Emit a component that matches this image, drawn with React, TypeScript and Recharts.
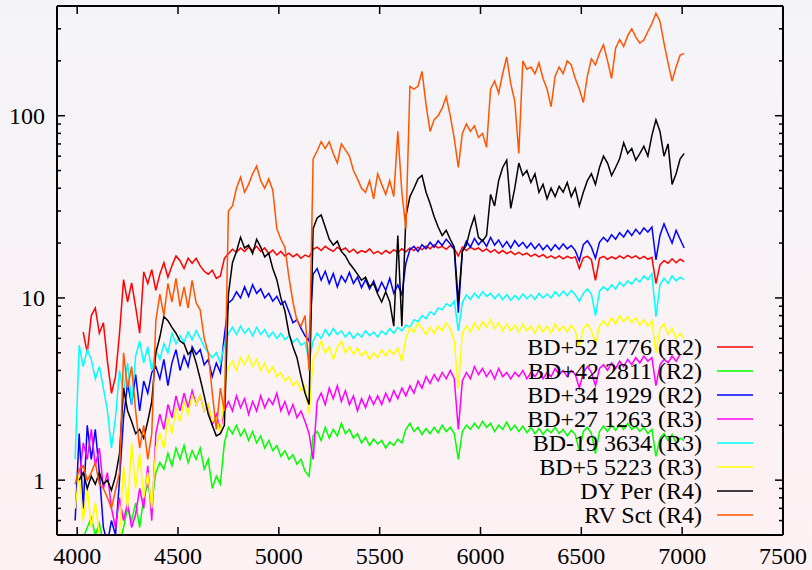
import { LineChart, Line, XAxis, YAxis } from 'recharts'

const WAVE_START = 3990
const WAVE_STEP = 20

const RED = [
  null, null, 6.5, 5.0, 8.0, 8.8, 6.4, 7.3, 4.5, 3.0,
  3.7, 6.4, 12.6, 9.5, 12.1, 8.9, 6.4, 13.9, 12.0, 14.3,
  11.0, 13.5, 15.6, 13.0, 15.0, 17.0, 16.0, 14.5, 16.5, 15.5,
  16.5, 15.0, 14.0, 13.5, 14.2, 12.8, 13.2, 16.5, 17.5, 18.5,
  17.8, 18.8, 18.0, 19.0, 18.2, 19.2, 18.0, 18.8, 17.5, 18.3,
  17.2, 18.0, 17.0, 17.6, 16.8, 17.4, 16.5, 17.2, 16.8, 18.5,
  19.0, 18.2, 19.2, 18.5, 18.0, 19.0, 18.3, 18.8, 17.8, 18.5,
  17.6, 18.2, 17.8, 18.6, 17.5, 18.0, 17.4, 18.2, 17.6, 18.4,
  17.8, 18.6, 17.9, 18.8, 18.2, 19.0, 18.4, 19.3, 18.6, 19.5,
  18.8, 19.2, 18.5, 19.4, 18.6, 17.0, 19.0, 18.2, 19.0, 18.4,
  18.8, 18.0, 18.6, 17.8, 18.4, 17.6, 18.2, 17.5, 18.0, 17.3,
  17.8, 17.2, 17.6, 16.9, 17.4, 16.8, 17.3, 16.6, 17.0, 16.5,
  17.0, 16.4, 16.9, 16.5, 16.8, 14.5, 16.6, 16.9, 16.2, 12.5,
  16.5, 16.9, 16.3, 16.8, 16.4, 17.0, 16.5, 17.1, 16.6, 17.0,
  16.4, 16.9, 16.3, 16.7, 12.0, 15.2, 16.0, 15.5, 16.4, 15.6,
  16.3, 15.8,
]

const GREEN = [
  0.45, 0.42, 0.48, 0.55, 0.62, 0.5, 0.58, 0.45, 0.4, 0.38,
  0.42, 0.45, 0.55, 0.7, 0.6, 0.75, 0.55, 0.8, 0.95, 0.75,
  1.1, 1.25, 1.15, 1.4, 1.2, 1.5, 1.3, 1.55, 1.25, 1.45,
  1.3, 1.5, 1.15, 1.3, 0.9, 1.05, 0.95, 1.6, 1.95, 1.8,
  2.0, 1.75, 1.9, 1.65, 1.85, 1.6, 1.75, 1.5, 1.65, 1.45,
  1.55, 1.35, 1.45, 1.3, 1.38, 1.22, 1.3, 1.12, 1.05, 1.75,
  1.85, 1.65, 1.95, 1.7, 1.9, 1.75, 2.05, 1.8, 1.9, 1.7,
  1.8, 1.6, 1.72, 1.55, 1.68, 1.58, 1.65, 1.5, 1.62, 1.55,
  1.68, 1.6, 1.9, 2.05, 1.85, 1.95, 1.78, 1.92, 1.8, 1.95,
  1.82, 2.0, 1.85, 1.95, 1.8, 1.3, 1.85, 2.0, 1.9, 2.05,
  1.92, 2.1, 1.95, 2.05, 1.85, 2.0, 1.9, 2.08, 1.88, 2.0,
  1.85, 1.98, 1.82, 1.95, 1.8, 1.92, 1.78, 1.9, 1.82, 1.95,
  1.8, 1.9, 1.75, 1.88, 1.78, 1.45, 1.85, 1.95, 1.8, 1.4,
  1.85, 1.98, 1.85, 2.0, 1.88, 2.02, 1.9, 2.05, 1.9, 1.98,
  1.85, 1.95, 1.8, 1.9, 1.35, 1.7, 1.8, 1.65, 1.78, 1.6,
  1.7, 1.65,
]

const BLUE = [
  0.6, 1.8, 0.7, 2.0, 1.3, 1.9, 1.1, 0.55, 0.45, 0.6,
  0.5, 1.0, 2.2, 3.4, 2.6, 3.8, 2.4, 3.5, 3.0, 3.9,
  4.2, 3.6, 4.6, 3.3, 4.4, 5.2, 4.0, 4.8, 4.2, 5.4,
  4.9, 5.2, 4.3, 4.6, 3.7, 4.4, 3.9, 6.2, 9.4, 9.8,
  10.8, 10.0, 11.5, 10.2, 11.8, 10.6, 11.2, 10.0, 10.6, 9.6,
  10.2, 9.2, 9.6, 8.4, 7.3, 7.6, 6.8, 6.2, 5.8, 13.5,
  14.5, 12.5, 14.0, 12.0, 13.6, 11.5, 13.2, 12.2, 13.8, 12.0,
  13.0, 11.4, 12.6, 11.2, 12.4, 10.8, 12.2, 11.0, 12.8, 10.6,
  11.8, 10.4, 15.5, 18.4, 19.2, 18.0, 19.6, 18.6, 20.2, 19.0,
  20.6, 19.4, 21.0, 19.8, 18.5, 8.3, 18.0, 20.5, 19.0, 21.2,
  19.6, 20.8, 19.2, 21.5, 19.5, 20.8, 19.0, 20.4, 18.8, 20.6,
  19.2, 20.2, 18.8, 20.0, 18.6, 19.8, 18.4, 19.5, 18.2, 19.6,
  18.5, 19.8, 18.6, 19.4, 18.2, 16.0, 19.6, 20.6, 19.0, 16.5,
  20.2, 21.5, 20.4, 22.2, 21.0, 22.8, 21.6, 23.5, 22.0, 23.8,
  22.4, 24.2, 23.0, 24.5, 16.2, 22.0, 25.5, 22.5, 20.0, 23.5,
  21.0, 18.8,
]

const MAGENTA = [
  null, 1.0, 1.6, 1.3, 1.9, 1.2, 1.5, 0.9, 1.1, 0.7,
  0.55, 0.8, 0.6, 0.75, 0.55, 0.65, 0.9, 0.7, 1.2, 0.6,
  1.8, 2.3, 1.9, 2.6, 2.2, 2.9, 2.4, 3.0, 2.5, 3.1,
  2.6, 2.9, 2.4, 2.6, 2.0, 2.3, 1.9, 2.4, 2.7, 2.4,
  2.9, 2.5, 2.8, 2.3, 2.7, 2.4, 2.9, 2.5, 2.8, 2.6,
  3.0, 2.4, 2.7, 2.3, 2.6, 2.2, 2.4, 2.1, 1.8, 1.3,
  2.7, 3.0, 2.6, 3.2, 2.8, 3.3, 2.7, 3.1, 2.6, 2.9,
  2.4, 2.8, 2.5, 2.9, 2.6, 2.9, 2.6, 3.0, 2.7, 3.1,
  2.8, 3.2, 2.9, 3.3, 3.0, 3.5, 3.2, 3.7, 3.4, 3.8,
  3.5, 3.9, 3.6, 4.0, 3.6, 1.9, 3.5, 3.9, 3.6, 4.2,
  3.8, 4.1, 3.7, 4.0, 3.6, 4.1, 3.7, 3.9, 3.6, 3.9,
  3.7, 4.0, 3.6, 3.9, 3.7, 4.0, 3.6, 3.9, 3.7, 4.1,
  3.8, 4.0, 3.7, 4.0, 3.8, 3.2, 3.9, 4.2, 3.9, 3.3,
  4.1, 4.3, 4.0, 4.4, 4.1, 4.5, 4.2, 4.6, 4.3, 4.7,
  4.4, 4.8, 4.5, 4.7, 3.3, 4.3, 4.6, 4.4, 4.8, 4.5,
  4.9, null,
]

const CYAN = [
  1.3, 5.5, 4.2, 5.2, 4.6, 3.6, 4.2, 3.2, 2.4, 1.5,
  2.2, 4.0, 3.0, 4.4, 2.6, 4.8, 5.8, 4.4, 5.4, 4.0,
  5.2, 4.6, 5.6, 5.0, 6.4, 5.6, 6.2, 5.7, 6.5, 5.9,
  6.6, 6.0, 5.4, 5.0, 4.7, 5.0, 4.4, 5.5, 6.4, 6.9,
  6.3, 7.0, 6.4, 6.8, 6.2, 6.9, 6.3, 6.7, 6.1, 6.5,
  6.0, 6.4, 5.9, 6.2, 5.7, 6.0, 5.5, 5.7, 4.5, 5.8,
  6.4, 6.0, 6.7, 6.2, 6.8, 6.3, 6.6, 6.1, 6.5, 6.0,
  6.4, 6.1, 6.6, 6.2, 6.5, 6.1, 6.6, 6.3, 6.8, 6.4,
  6.9, 6.6, 7.1, 6.9, 7.6, 7.4, 8.0, 7.7, 8.4, 8.1,
  8.8, 8.6, 9.3, 9.0, 9.6, 6.6, 9.4, 10.4, 9.8, 10.6,
  10.0, 10.8, 10.2, 10.6, 9.9, 10.5, 9.8, 10.4, 9.7, 10.3,
  9.8, 10.5, 9.9, 10.4, 9.8, 10.6, 10.0, 10.5, 10.0, 10.8,
  10.2, 10.9, 10.3, 11.0, 10.4, 9.6, 10.6, 11.2, 10.5, 8.0,
  10.9, 11.5, 11.0, 11.8, 11.2, 12.2, 11.6, 12.4, 11.9, 12.8,
  12.2, 13.2, 12.6, 13.6, 7.9, 11.8, 12.8, 12.0, 13.2, 12.4,
  13.0, 12.6,
]

const YELLOW = [
  0.7, 1.1, 0.6, 0.9, 0.55, 0.75, 0.5, 0.45, 0.4, 0.45,
  0.42, 0.5, 1.2, 0.7, 1.6, 0.9, 1.4, 0.8, 1.1, 0.7,
  1.5, 1.8, 1.5, 2.2, 1.8, 2.5, 2.1, 2.7, 2.3, 2.9,
  2.6, 2.9, 2.4, 2.6, 2.1, 2.2, 1.8, 3.2, 4.2, 4.5,
  4.0, 4.7, 4.3, 4.8, 4.2, 4.6, 4.0, 4.4, 3.9, 4.2,
  3.7, 3.9, 3.5, 3.7, 3.3, 3.5, 3.1, 3.3, 2.3, 4.6,
  5.0, 5.8, 5.0, 5.4, 4.6, 5.3, 5.8, 5.0, 5.4, 4.9,
  5.3, 4.8, 5.1, 4.6, 5.0, 4.7, 5.2, 4.8, 5.2, 4.9,
  5.3, 4.5, 6.0, 6.9, 6.5, 7.3, 6.8, 6.3, 6.9, 6.4,
  7.0, 6.6, 7.3, 6.8, 5.8, 3.2, 6.4, 7.0, 6.5, 7.3,
  6.7, 7.4, 6.9, 7.6, 6.8, 7.3, 6.6, 7.2, 6.6, 7.1,
  6.5, 7.2, 6.6, 7.0, 6.4, 7.1, 6.5, 7.0, 6.4, 7.2,
  6.6, 7.0, 6.5, 7.1, 6.6, 5.4, 6.8, 7.2, 6.6, 5.6,
  7.0, 7.5, 7.0, 7.8, 7.2, 8.0, 7.4, 7.9, 7.3, 7.8,
  7.1, 7.6, 7.0, 7.5, 5.0, 6.8, 7.2, 6.3, 6.8, 6.0,
  6.4, 6.0,
]

const BLACK = [
  null, 1.0, 1.1, 0.9, 1.05, 0.95, 1.1, 0.95, 1.0, 0.88,
  1.05, 1.4, 3.2, 2.4, 2.1, 1.8, 1.9, 1.7, 2.1, 2.7,
  5.0, 6.1, 7.9, 7.5, 6.9, 6.4, 5.8, 5.6, 4.9, 5.2,
  4.4, 3.6, 2.9, 2.3, 2.0, 1.75, 1.8, 2.0, 10.5, 15.6,
  18.0, 21.5, 18.8, 19.5, 17.5, 21.0, 19.0, 16.8, 17.6, 14.5,
  12.6, 10.0, 8.5, 6.4, 5.4, 4.7, 3.7, 3.0, 2.6, 24.0,
  27.5, 28.5, 24.5, 21.0, 19.5, 20.5, 18.0, 17.0, 15.5, 14.5,
  13.5, 12.5, 13.0, 11.5, 12.0, 10.5, 9.5, 10.8, 9.5, 7.0,
  22.0, 7.0, 28.0, 36.0, 40.0, 45.0, 47.0, 38.0, 33.0, 28.0,
  24.5, 22.0, 23.5, 21.0, 19.0, 9.5, 18.0, 19.5, 24.0, 28.0,
  21.5, 20.5, 22.0, 37.0, 32.0, 44.0, 52.0, 57.0, 31.0, 40.0,
  55.0, 47.0, 50.0, 43.0, 48.0, 38.0, 42.0, 35.0, 40.0, 36.0,
  41.0, 38.0, 43.0, 36.0, 40.0, 32.0, 38.0, 44.0, 48.0, 42.0,
  52.0, 60.0, 55.0, 47.0, 52.0, 58.0, 71.0, 62.0, 66.0, 57.0,
  62.0, 68.0, 60.0, 78.0, 95.0, 82.0, 60.0, 70.0, 42.0, 48.0,
  58.0, 62.0,
]

const ORANGE = [
  0.95, 1.15, 1.2, 1.0, 1.1, 1.25, 0.95, 0.9, 0.8, 0.7,
  0.88, 1.1, 5.0, 3.2, 4.2, 2.4, 1.5, 2.0, 1.3, 1.8,
  7.5, 10.5, 8.0, 12.0, 9.5, 12.8, 9.0, 11.5, 8.8, 12.5,
  9.4, 8.6, 6.0, 5.0, 3.0, 1.9, 3.2, 2.4, 30.0, 32.0,
  40.0, 46.0, 38.0, 42.0, 48.0, 53.0, 44.0, 40.0, 45.0, 39.0,
  24.0, 21.0, 19.0, 13.0, 9.5, 7.5, 7.0, 8.0, 4.0, 58.0,
  64.0, 72.0, 66.0, 72.0, 62.0, 55.0, 70.0, 65.0, 60.0, 50.0,
  45.0, 40.0, 38.0, 44.0, 35.0, 48.0, 42.0, 37.0, 44.0, 36.0,
  82.0, 38.0, 24.0, 145.0, 140.0, 145.0, 175.0, 115.0, 82.0, 95.0,
  100.0, 110.0, 127.0, 100.0, 75.0, 52.0, 80.0, 90.0, 82.0, 88.0,
  76.0, 80.0, 67.0, 140.0, 155.0, 133.0, 170.0, 210.0, 150.0, 120.0,
  62.0, 200.0, 180.0, 185.0, 170.0, 195.0, 160.0, 140.0, 112.0, 165.0,
  185.0, 170.0, 200.0, 190.0, 160.0, 140.0, 118.0, 165.0, 205.0, 190.0,
  220.0, 245.0, 200.0, 160.0, 235.0, 262.0, 240.0, 275.0, 300.0, 270.0,
  250.0, 260.0, 290.0, 320.0, 365.0, 330.0, 250.0, 195.0, 155.0, 185.0,
  215.0, 220.0,
]

const X_TICKS = [4000, 4500, 5000, 5500, 6000, 6500, 7000, 7500]
const Y_MAJOR = [1, 10, 100]
const Y_TICKS = [0.5, 0.6, 0.7, 0.8, 0.9, 1, 2, 3, 4, 5, 6, 7, 8, 9, 10, 20, 30, 40, 50, 60, 70, 80, 90, 100, 200, 300, 400]

const SERIES = [
  { key: 'bd52', name: 'BD+52 1776 (R2)', color: '#ff0000', values: RED },
  { key: 'bd42', name: 'BD+42 2811 (R2)', color: '#00ff00', values: GREEN },
  { key: 'bd34', name: 'BD+34 1929 (R2)', color: '#0000ff', values: BLUE },
  { key: 'bd27', name: 'BD+27 1263 (R3)', color: '#ff00ff', values: MAGENTA },
  { key: 'bd19', name: 'BD-19 3634 (R3)', color: '#00ffff', values: CYAN },
  { key: 'bd5', name: 'BD+5 5223 (R3)', color: '#ffff00', values: YELLOW },
  { key: 'dyper', name: 'DY Per (R4)', color: '#000000', values: BLACK },
  { key: 'rvsct', name: 'RV Sct (R4)', color: '#ff5500', values: ORANGE },
]

const data = RED.map((_, i) => {
  const row: Record<string, number | null> = { w: WAVE_START + WAVE_STEP * i }
  SERIES.forEach((s) => {
    row[s.key] = s.values[i]
  })
  return row
})

const W = 812
const H = 570
const MARGIN = { top: 6, right: 29, left: 0, bottom: 0 }
const PLOT_TOP = MARGIN.top
const PLOT_RIGHT = W - MARGIN.right

const FONT = '"Liberation Serif", "Times New Roman", serif'
const frame = { stroke: '#000', strokeWidth: 2 }
const X_DOMAIN = [3900, 7500]
const Y_DOMAIN = [0.5, 400]
// tickSize + tickMargin: distance from the axis line to where recharts puts the tick label
const GAP = 12
const THIN = 0.01
const MAJOR_LEN = 8
const MINOR_LEN = 4

const txt = { fill: '#000', fontSize: 24, fontFamily: FONT }
const mark = { stroke: '#000', strokeWidth: 1.5 }

// gnuplot style: tick marks point into the plot and are mirrored on the opposite border
function BottomTick({ x, y, payload }: any) {
  const y0 = y - GAP
  return (
    <g>
      <line x1={x} x2={x} y1={y0} y2={y0 - MAJOR_LEN} {...mark} />
      <line x1={x} x2={x} y1={PLOT_TOP} y2={PLOT_TOP + MAJOR_LEN} {...mark} />
      <text x={x} y={y} dy="0.71em" textAnchor="middle" {...txt}>
        {payload.value}
      </text>
    </g>
  )
}

function LeftTick({ x, y, payload }: any) {
  const x0 = x + GAP
  const major = Y_MAJOR.includes(payload.value)
  const len = major ? MAJOR_LEN : MINOR_LEN
  return (
    <g>
      <line x1={x0} x2={x0 + len} y1={y} y2={y} {...mark} />
      <line x1={PLOT_RIGHT} x2={PLOT_RIGHT - len} y1={y} y2={y} {...mark} />
      {major && (
        <text x={x} y={y} dy="0.355em" textAnchor="end" {...txt}>
          {payload.value}
        </text>
      )}
    </g>
  )
}

export default function App() {
  return (
    <div
      style={{
        position: 'relative',
        width: W,
        height: H,
        background: 'linear-gradient(to bottom, #f4f4f8, #fdf1f3)',
        fontFamily: FONT,
      }}
    >
      <style>{'body{margin:0}'}</style>
      <LineChart width={W} height={H} data={data} margin={MARGIN}>
        <XAxis
          xAxisId="x"
          dataKey="w"
          type="number"
          domain={X_DOMAIN}
          allowDataOverflow
          ticks={X_TICKS}
          interval={0}
          height={35}
          tickLine={false}
          tickSize={6}
          tickMargin={6}
          axisLine={frame}
          tick={<BottomTick />}
        />
        <XAxis
          xAxisId="xt"
          orientation="top"
          type="number"
          domain={X_DOMAIN}
          allowDataOverflow
          height={THIN}
          tickLine={false}
          tick={false}
          axisLine={frame}
        />
        <YAxis
          yAxisId="y"
          scale="log"
          domain={Y_DOMAIN}
          allowDataOverflow
          ticks={Y_TICKS}
          interval={0}
          width={57}
          tickLine={false}
          tickSize={6}
          tickMargin={6}
          axisLine={frame}
          tick={<LeftTick />}
        />
        <YAxis
          yAxisId="yr"
          orientation="right"
          scale="log"
          domain={Y_DOMAIN}
          allowDataOverflow
          width={THIN}
          tickLine={false}
          tick={false}
          axisLine={frame}
        />
        {SERIES.map((s) => (
          <Line
            key={s.key}
            xAxisId="x"
            yAxisId="y"
            dataKey={s.key}
            name={s.name}
            type="linear"
            stroke={s.color}
            strokeWidth={1.5}
            dot={false}
            isAnimationActive={false}
          />
        ))}
      </LineChart>
      <div style={{ position: 'absolute', left: 380, top: 335, width: 380 }}>
        {SERIES.map((s) => (
          <div key={s.key} style={{ display: 'flex', alignItems: 'center', height: 24 }}>
            <span
              style={{
                width: 322,
                textAlign: 'right',
                fontSize: 24,
                lineHeight: '24px',
                color: '#000',
                whiteSpace: 'nowrap',
              }}
            >
              {s.name}
            </span>
            <svg width={51} height={24} style={{ display: 'block' }}>
              <line x1={15} x2={51} y1={12} y2={12} stroke={s.color} strokeWidth={1.5} />
            </svg>
          </div>
        ))}
      </div>
    </div>
  )
}
